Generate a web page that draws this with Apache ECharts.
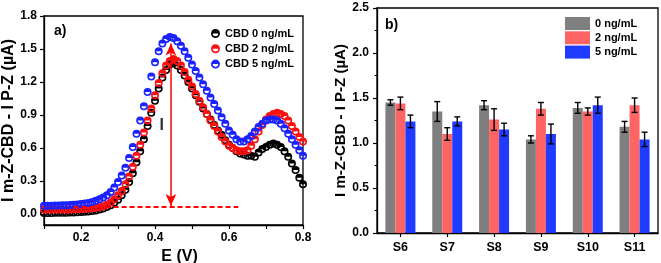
<!DOCTYPE html>
<html><head><meta charset="utf-8">
<script src="https://cdn.jsdelivr.net/npm/echarts@6/dist/echarts.min.js"></script>
<style>html,body{margin:0;padding:0;background:#fff}#c{width:661px;height:263px}</style>
</head><body><div id="c"></div>
<script>
// ---------- Panel a) data ----------
const potentials = [0.10,0.11,0.12,0.13,0.14,0.15,0.16,0.17,0.18,0.19,0.20,0.21,0.22,0.23,0.24,0.25,0.26,0.27,0.28,0.29,0.30,0.31,0.32,0.33,0.34,0.35,0.36,0.37,0.38,0.39,0.40,0.41,0.42,0.43,0.44,0.45,0.46,0.47,0.48,0.49,0.50,0.51,0.52,0.53,0.54,0.55,0.56,0.57,0.58,0.59,0.60,0.61,0.62,0.63,0.64,0.65,0.66,0.67,0.68,0.69,0.70,0.71,0.72,0.73,0.74,0.75,0.76,0.77,0.78,0.79,0.80];
const cbd0 = [0.010,0.010,0.010,0.011,0.011,0.012,0.012,0.013,0.014,0.016,0.018,0.020,0.023,0.027,0.032,0.040,0.050,0.063,0.080,0.103,0.13,0.17,0.22,0.29,0.37,0.47,0.57,0.68,0.80,0.92,1.03,1.14,1.24,1.31,1.36,1.37,1.35,1.31,1.26,1.20,1.14,1.08,1.02,0.96,0.91,0.86,0.81,0.76,0.72,0.67,0.63,0.60,0.57,0.55,0.54,0.53,0.53,0.52,0.56,0.59,0.61,0.63,0.64,0.63,0.61,0.57,0.52,0.46,0.40,0.33,0.27];
const cbd2 = [0.040,0.040,0.040,0.040,0.041,0.041,0.042,0.042,0.043,0.044,0.045,0.047,0.049,0.052,0.056,0.062,0.070,0.085,0.105,0.135,0.17,0.21,0.27,0.34,0.43,0.53,0.63,0.74,0.85,0.96,1.08,1.19,1.28,1.35,1.39,1.41,1.39,1.35,1.29,1.22,1.16,1.09,1.03,0.97,0.91,0.85,0.80,0.75,0.70,0.66,0.62,0.60,0.58,0.57,0.57,0.58,0.62,0.68,0.75,0.81,0.86,0.89,0.91,0.92,0.91,0.89,0.85,0.80,0.75,0.70,0.66];
const cbd5 = [0.075,0.075,0.076,0.077,0.078,0.079,0.080,0.082,0.084,0.087,0.090,0.095,0.100,0.110,0.120,0.135,0.150,0.170,0.200,0.240,0.29,0.35,0.42,0.51,0.61,0.73,0.85,0.98,1.11,1.25,1.38,1.48,1.55,1.59,1.61,1.60,1.57,1.53,1.48,1.42,1.36,1.30,1.24,1.18,1.12,1.06,1.00,0.94,0.88,0.82,0.76,0.72,0.68,0.66,0.66,0.68,0.71,0.75,0.79,0.82,0.85,0.86,0.86,0.85,0.82,0.78,0.73,0.68,0.63,0.58,0.53];
const curveNames = ['CBD 0 ng/mL','CBD 2 ng/mL','CBD 5 ng/mL'];
const xTickLabels = [0.2,0.4,0.6,0.8];
const xTicks = [0.1,0.2,0.3,0.4,0.5,0.6,0.7,0.8];
const yTickLabelsA = [0,0.3,0.6,0.9,1.2,1.5,1.8];
// annotation (data coordinates)
const arrowX = 0.443, arrowBottom = 0.072, arrowTop = 1.55;
const dashY = 0.065, dashFrom = 0.18, dashTo = 0.625;
const labelI = [0.418, 0.80];

// ---------- Panel b) data ----------
const samples = ['S6','S7','S8','S9','S10','S11'];
const barNames = ['0 ng/mL','2 ng/mL','5 ng/mL'];
const bar0 = [1.45,1.35,1.42,1.04,1.39,1.18];
const bar2 = [1.44,1.10,1.26,1.38,1.35,1.42];
const bar5 = [1.24,1.24,1.15,1.10,1.42,1.04];
const err0 = [0.03,0.11,0.05,0.04,0.06,0.06];
const err2 = [0.07,0.07,0.12,0.07,0.04,0.08];
const err5 = [0.07,0.05,0.07,0.11,0.09,0.08];

const FONT = 'Liberation Sans, Arial, sans-serif';
const halfCircle = 'path://M0,10A10,10,0,1,1,20,10A10,10,0,1,1,0,10ZM3.8,10A6.2,6.2,0,1,0,16.2,10A6.2,6.2,0,1,0,3.8,10ZM0,10A10,10,0,0,1,20,10Z';
const curveColors = ['#000000','#ff1010','#1a22ff'];
const barColors = ['#7f7f7f','#ff6464','#1f3bff'];

function pairs(ys){ return potentials.map((x,i)=>[x, ys[i]]); }

const chart = echarts.init(document.getElementById('c'), null, {renderer:'canvas'});

const axisLineStyle = {color:'#000', width:1.3};
const yTitle = 'I m-Z-CBD - I P-Z (µA)';

const curveSeries = [cbd0,cbd2,cbd5].map((d,i)=>({
  type:'line', name:curveNames[i], xAxisIndex:0, yAxisIndex:0,
  data:pairs(d), symbol:halfCircle, symbolSize:8, showSymbol:true,
  lineStyle:{width:0}, itemStyle:{color:curveColors[i]}, z:2+i, animation:false
}));
curveSeries[0].markLine = {
  silent:true, animation:false, label:{show:false},
  data:[
    [{coord:[arrowX,arrowBottom], symbol:'arrow'},{coord:[arrowX,arrowTop], symbol:'arrow'}]
  ],
  symbolSize:[8,12],
  lineStyle:{color:'#ff0000', width:1.5, type:'solid'}
};
curveSeries[2].markLine = {
  silent:true, animation:false, label:{show:false}, symbol:'none',
  data:[[{coord:[dashFrom,dashY]},{coord:[dashTo,dashY]}]],
  lineStyle:{color:'#ff0000', width:2, type:[5,3]}
};
curveSeries[0].markPoint = {
  silent:true, animation:false, symbol:'circle', symbolSize:0,
  data:[{coord:labelI}],
  label:{show:true, formatter:'I', color:'#333', fontSize:16, fontWeight:'bold', fontFamily:FONT, position:'inside'}
};

const allBars = [bar0,bar2,bar5];
const allErr = [err0,err2,err5];
const barSeries = allBars.map((d,i)=>({
  type:'bar', name:barNames[i], xAxisIndex:1, yAxisIndex:1, data:d,
  barWidth:10, barGap:'0%', barCategoryGap:'0%', itemStyle:{color:barColors[i]}, animation:false
}));
const offsets = [-10,0,10];
const errSeries = allBars.map((d,i)=>({
  type:'custom', xAxisIndex:1, yAxisIndex:1, animation:false, silent:true, z:5,
  data:d.map((v,j)=>[j, v, allErr[i][j]]),
  renderItem:function(params, api){
    const c = api.value(0), v = api.value(1), e = api.value(2);
    const hi = api.coord([c, v+e]), lo = api.coord([c, v-e]);
    const x = hi[0] + offsets[i];
    const w = 3;
    const st = {stroke:'#000', lineWidth:1.4};
    return {type:'group', children:[
      {type:'line', shape:{x1:x,y1:hi[1],x2:x,y2:lo[1]}, style:st},
      {type:'line', shape:{x1:x-w,y1:hi[1],x2:x+w,y2:hi[1]}, style:st},
      {type:'line', shape:{x1:x-w,y1:lo[1],x2:x+w,y2:lo[1]}, style:st}
    ]};
  }
}));

const labelStyle = {color:'#000', fontWeight:'bold', fontSize:12, fontFamily:FONT};

chart.setOption({
  animation:false,
  backgroundColor:'#fff',
  grid:[
    {left:44, top:16, width:259, height:209, show:true, borderColor:'#000', borderWidth:1.3, backgroundColor:'transparent', outerBoundsMode:'none', containLabel:false},
    {left:377, top:8, width:281, height:225, show:true, borderColor:'#000', borderWidth:1.3, backgroundColor:'transparent', outerBoundsMode:'none', containLabel:false}
  ],
  title:[
    {text:'a)', left:49, top:19, textStyle:{fontSize:14, fontWeight:'bold', fontFamily:FONT, color:'#000'}},
    {text:'b)', left:380, top:13, textStyle:{fontSize:14, fontWeight:'bold', fontFamily:FONT, color:'#000'}}
  ],
  legend:[
    {data:curveNames, orient:'vertical', left:211, top:28, itemWidth:9, itemHeight:9, itemGap:4.3,
     icon:halfCircle, textStyle:{fontSize:11, fontWeight:'bold', fontFamily:FONT, color:'#000'}, padding:0},
    {data:barNames, orient:'vertical', left:565, top:17, itemWidth:25, itemHeight:13, itemGap:1.3,
     icon:'rect', textStyle:{fontSize:11, fontWeight:'bold', fontFamily:FONT, color:'#000'}, padding:0}
  ],
  xAxis:[
    {type:'value', gridIndex:0, min:0.1, max:0.8, position:'bottom',
     name:'E (V)', nameLocation:'middle', nameGap:21, nameTextStyle:{fontSize:16, fontWeight:'bold', fontFamily:FONT, color:'#000', padding:[0,0,0,12]},
     axisLine:{show:true, onZero:false, lineStyle:axisLineStyle},
     axisTick:{show:true, length:4, inside:false, lineStyle:{color:'#000', width:1.2}, customValues:xTicks},
     axisLabel:{...labelStyle, margin:7, customValues:xTickLabels, formatter:v=>v.toFixed(1)},
     splitLine:{show:false}},
    {type:'category', gridIndex:1, data:samples, position:'bottom',
     axisLine:{show:true, onZero:false, lineStyle:axisLineStyle},
     axisTick:{show:true, alignWithLabel:true, length:4, lineStyle:{color:'#000', width:1.2}},
     axisLabel:{...labelStyle, fontSize:12.5, margin:8}}
  ],
  yAxis:[
    {type:'value', gridIndex:0, min:-0.1, max:1.8,
     name:yTitle, nameLocation:'middle', nameGap:26, nameTextStyle:{fontSize:16, fontWeight:'bold', fontFamily:FONT, color:'#000'},
     axisLine:{show:true, onZero:false, lineStyle:axisLineStyle},
     axisTick:{show:true, length:4, lineStyle:{color:'#000', width:1.2}, customValues:yTickLabelsA},
     axisLabel:{...labelStyle, margin:7, customValues:yTickLabelsA, formatter:v=>v.toFixed(1)},
     splitLine:{show:false}},
    {type:'value', gridIndex:1, min:0, max:2.5, interval:0.5,
     name:yTitle, nameLocation:'middle', nameGap:29, nameTextStyle:{fontSize:15, fontWeight:'bold', fontFamily:FONT, color:'#000'},
     axisLine:{show:true, onZero:false, lineStyle:axisLineStyle},
     axisTick:{show:true, length:4, lineStyle:{color:'#000', width:1.2}},
     minorTick:{show:true, splitNumber:2, length:2.5, lineStyle:{color:'#000', width:1}},
     axisLabel:{...labelStyle, margin:8, formatter:v=>v.toFixed(1)},
     splitLine:{show:false}}
  ],
  series:[...curveSeries, ...barSeries, ...errSeries]
});
</script></body></html>
